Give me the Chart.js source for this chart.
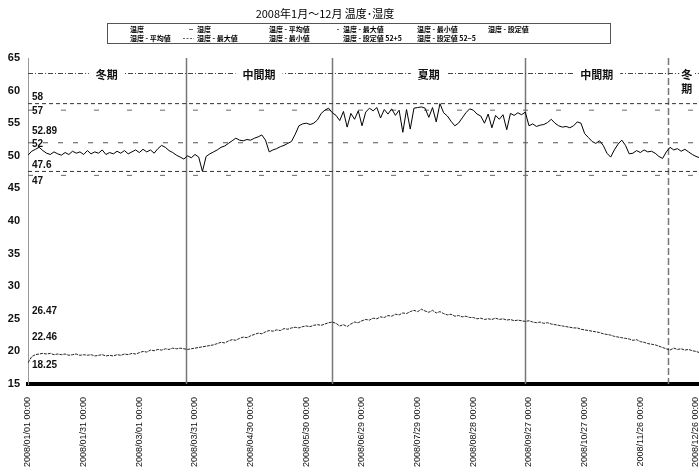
<!DOCTYPE html>
<html>
<head>
<meta charset="utf-8">
<script src="https://cdn.jsdelivr.net/npm/chart.js@4.4.1/dist/chart.umd.min.js"></script>
<style>
  html, body { margin: 0; padding: 0; background: #fff; overflow: hidden; }
  #wrap { width: 720px; height: 474px; }
</style>
</head>
<body>
<div id="wrap"><canvas id="chart" width="720" height="474"></canvas></div>
<script>
// Samples every 2 days from 2008/01/01
const stepDays = 2;

// 湿度 (%)
const humidity = [
  50.1, 50.7, 51.0, 51.3, 50.8, 50.4, 50.2, 50.6, 50.3, 50.1,
  50.5, 50.2, 50.7, 50.4, 50.6, 50.2, 50.8, 50.3, 50.6, 50.4,
  50.9, 50.2, 50.5, 50.3, 50.7, 50.4, 50.8, 50.3, 50.6, 50.9,
  50.5, 51.0, 50.6, 50.9, 50.4, 51.1, 51.6, 51.3, 50.8, 50.5,
  50.1, 49.8, 49.5, 50.0, 49.7, 50.2, 49.8, 47.6, 49.9, 50.3,
  50.6, 50.9, 51.3, 51.5, 51.9, 52.3, 52.7, 52.4, 52.3, 52.5,
  52.4, 52.7, 52.9, 53.2, 52.4, 50.6, 50.9, 51.1, 51.4, 51.6,
  51.9, 52.2, 53.3, 54.6, 54.9, 55.0, 54.8, 55.0, 55.5, 56.5,
  57.0, 57.3, 56.6, 56.2, 55.4, 56.8, 54.4, 56.5, 55.6, 56.9,
  54.6, 56.7, 57.3, 56.9, 57.4, 55.8, 57.1, 56.4, 57.2, 56.2,
  57.0, 53.6, 57.1, 54.1, 57.3, 57.4, 57.5, 57.3, 55.9, 57.4,
  55.2, 58.0, 56.6, 56.1, 55.3, 54.6, 55.0, 55.8, 56.6, 57.2,
  57.0, 56.4, 56.1, 55.0, 56.4, 54.3, 56.2, 55.6, 56.3, 54.0,
  56.5, 56.2, 56.6, 56.3, 56.7, 54.6, 54.9, 54.5, 54.7, 54.8,
  55.1, 55.6, 55.0, 54.6, 54.4, 54.5, 54.3, 54.6, 55.2, 55.0,
  53.4, 52.8, 52.2, 51.9, 52.3, 51.6, 50.4, 49.8, 50.9, 51.8,
  52.4, 51.6, 50.3, 50.4, 50.8, 50.5, 50.9, 50.6, 50.7, 50.4,
  49.9, 49.6, 50.6, 51.3, 50.9, 51.1, 50.7, 51.0, 50.6, 50.2,
  49.9, 49.7, 49.9
];

// 温度 (℃)
const temperature = [
  18.25, 19.2, 19.5, 19.6, 19.7, 19.6, 19.7, 19.5, 19.6, 19.5,
  19.6, 19.4, 19.5, 19.6, 19.4, 19.5, 19.4, 19.5, 19.3, 19.4,
  19.5, 19.3, 19.4, 19.3, 19.5, 19.4, 19.6, 19.5, 19.7, 19.6,
  19.8, 20.0, 19.9, 20.2, 20.1, 20.3, 20.2, 20.4, 20.3, 20.5,
  20.4, 20.5, 20.4, 20.3, 20.4, 20.5, 20.6, 20.7, 20.8, 20.9,
  21.0, 21.2, 21.4, 21.3, 21.6, 21.8, 21.7, 22.0, 22.2, 22.1,
  22.4, 22.6, 22.8, 22.7, 23.0, 23.2, 23.1, 23.3, 23.2, 23.5,
  23.4, 23.6, 23.7, 23.6, 23.8, 23.9, 23.8, 24.0, 24.1, 24.0,
  24.2, 24.4, 24.5, 24.3, 23.9, 24.1, 23.8, 24.2, 24.5, 24.4,
  24.7, 24.9, 24.8, 25.1, 25.0, 25.3, 25.2, 25.5, 25.4, 25.7,
  25.6, 25.9, 25.8, 26.1, 26.3, 26.1, 26.47, 26.2, 26.0, 26.3,
  25.9, 26.1, 25.8, 25.6, 25.7, 25.4, 25.5, 25.3, 25.4, 25.2,
  25.2, 25.0, 25.1, 24.9, 25.0, 24.9, 25.1, 24.9, 25.0, 24.8,
  24.9, 24.7, 24.8, 24.7, 24.6, 24.7, 24.5, 24.4, 24.5, 24.3,
  24.4, 24.2, 24.1, 24.0, 23.9, 23.8, 23.7, 23.6, 23.6, 23.4,
  23.3, 23.2, 23.1, 23.0, 22.9, 22.7, 22.6, 22.5, 22.3, 22.2,
  22.1, 22.0, 21.9, 21.7, 21.8, 21.5, 21.4, 21.2, 21.1, 21.0,
  20.8, 20.6, 20.4, 20.2, 20.5, 20.3, 20.4, 20.2, 20.3, 20.1,
  20.0, 19.8, 19.9
];

// Summary values
const humidityMax = 58;
const humidityAvg = 52.89;
const humidityMin = 47.6;
const humiditySet = 52;
const humiditySetUpper = 57;   // 52+5
const humiditySetLower = 47;   // 52-5
const tempMax = 26.47;
const tempAvg = 22.46;
const tempMin = 18.25;

// X axis: days since 2008/01/01
const tickDays = [0, 30, 60, 90, 120, 150, 180, 210, 240, 270, 300, 330, 360];
const tickLabels = [
  '2008/01/01 00:00', '2008/01/31 00:00', '2008/03/01 00:00', '2008/03/31 00:00',
  '2008/04/30 00:00', '2008/05/30 00:00', '2008/06/29 00:00', '2008/07/29 00:00',
  '2008/08/28 00:00', '2008/09/27 00:00', '2008/10/27 00:00', '2008/11/26 00:00',
  '2008/12/26 00:00'
];

// Operating periods (day boundaries)
const periodNames = ['冬期', '中間期', '夏期', '中間期', '冬期'];
const periodBounds = [0, 85, 164, 268, 345, 365];
const periodLineValue = 62.7;

const titleText = '2008年1月～12月 温度･湿度';
const legendRows = [
  ['温度', '湿度', '温度 - 平均値', '温度 - 最大値', '温度 - 最小値', '湿度 - 設定値'],
  ['湿度 - 平均値', '湿度 - 最大値', '湿度 - 最小値', '湿度 - 設定値 52+5', '湿度 - 設定値 52−5']
];

// value notes along the left edge: [value, placement]
const valueNotes = [
  [humidityMax, 'above'], [humiditySetUpper, 'mid'],
  [humidityAvg, 'above'], [humiditySet, 'mid'],
  [humidityMin, 'above'], [humiditySetLower, 'below'],
  [tempMax, 'temp'], [tempAvg, 'temp'], [tempMin, 'temp']
];

const toPoints = arr => arr.map((v, i) => ({ x: i * stepDays, y: v }));
const flat = v => [{ x: 0, y: v }, { x: 365, y: v }];

const NARROW = '"Liberation Sans Narrow", "Liberation Sans", Arial, sans-serif';
const CJK = '"Noto Sans CJK JP", "Noto Sans CJK SC", sans-serif';

const decor = {
  id: 'decor',
  beforeDatasetsDraw(chart) {
    const { ctx, chartArea: a, scales: { x, y } } = chart;
    ctx.save();
    // period boundaries
    periodBounds.slice(1, -1).forEach((d, i) => {
      const px = Math.round(x.getPixelForValue(d)) + 0.5;
      ctx.strokeStyle = '#777';
      ctx.lineWidth = 1.5;
      ctx.setLineDash(i === 3 ? [7, 3] : []);
      ctx.beginPath();
      ctx.moveTo(px, a.top);
      ctx.lineTo(px, a.bottom);
      ctx.stroke();
    });
    // period band line
    const py = Math.round(y.getPixelForValue(periodLineValue)) + 0.5;
    ctx.setLineDash([5, 2, 1, 2]);
    ctx.strokeStyle = '#444';
    ctx.lineWidth = 1;
    ctx.beginPath();
    ctx.moveTo(a.left, py);
    ctx.lineTo(a.right, py);
    ctx.stroke();
    ctx.setLineDash([]);
    ctx.font = 'bold 11px ' + CJK;
    ctx.textAlign = 'center';
    ctx.textBaseline = 'middle';
    periodNames.forEach((name, i) => {
      const cx = (x.getPixelForValue(periodBounds[i]) + x.getPixelForValue(periodBounds[i + 1])) / 2;
      const last = i === periodNames.length - 1;
      const lines = last ? name.split('') : [name];
      const w = ctx.measureText(lines[0]).width + (last ? 4 : 14);
      ctx.fillStyle = '#fff';
      ctx.fillRect(cx - w / 2, py - 7, w, 14);
      ctx.fillStyle = '#111';
      lines.forEach((t, k) => ctx.fillText(t, cx, py + 1 + k * 14));
    });
    ctx.restore();
  },
  afterDatasetsDraw(chart) {
    const { ctx, chartArea: a, scales: { y } } = chart;
    ctx.save();
    ctx.font = 'bold 10px ' + NARROW;
    ctx.fillStyle = '#111';
    ctx.textAlign = 'left';
    valueNotes.forEach(([v, where]) => {
      const py = y.getPixelForValue(v);
      let ty = py;
      if (where === 'above') { ctx.textBaseline = 'bottom'; ty = py - 1; }
      else if (where === 'below') { ctx.textBaseline = 'top'; ty = py + 1; }
      else if (where === 'mid') { ctx.textBaseline = 'middle'; ty = py + 1; }
      else { ctx.textBaseline = 'middle'; ty = py + 2; }
      ctx.fillText(String(v), a.left + 4, ty);
    });
    ctx.restore();
  },
  afterDraw(chart) {
    const { ctx } = chart;
    ctx.save();
    // title
    ctx.font = '11px ' + CJK;
    ctx.fillStyle = '#000';
    ctx.textAlign = 'center';
    ctx.textBaseline = 'middle';
    ctx.fillText(titleText, 325, 14);
    // legend box
    ctx.strokeStyle = '#555';
    ctx.lineWidth = 1;
    ctx.strokeRect(107.5, 23.5, 503, 20);
    ctx.font = 'bold 7px ' + CJK;
    ctx.textAlign = 'left';
    ctx.textBaseline = 'middle';
    const cols = [130, 197, 269, 343, 417, 488];
    const rows = [29.5, 38.5];
    legendRows.forEach((row, r) => row.forEach((t, c) => ctx.fillText(t, cols[c], rows[r])));
    // line samples
    ctx.strokeStyle = '#666';
    ctx.beginPath(); ctx.moveTo(189, 29.5); ctx.lineTo(193, 29.5); ctx.stroke();
    ctx.beginPath(); ctx.moveTo(337, 29.5); ctx.lineTo(339, 29.5); ctx.stroke();
    ctx.setLineDash([2, 1.5]);
    ctx.beginPath(); ctx.moveTo(183, 38.5); ctx.lineTo(194, 38.5); ctx.stroke();
    ctx.restore();
  }
};

const refLine = (label, v, dash, color) => ({
  label, data: flat(v), borderColor: color, borderWidth: 1, borderDash: dash,
  pointRadius: 0, tension: 0
});

new Chart(document.getElementById('chart'), {
  type: 'line',
  data: {
    datasets: [
      { label: '温度', data: toPoints(temperature), borderColor: '#222', borderWidth: 1,
        borderDash: [3, 1], pointRadius: 0, tension: 0 },
      { label: '湿度', data: toPoints(humidity), borderColor: '#000', borderWidth: 1,
        pointRadius: 0, tension: 0 },
      refLine('湿度 - 最大値', humidityMax, [4, 3], '#333'),
      refLine('湿度 - 最小値', humidityMin, [4, 3], '#333'),
      refLine('湿度 - 設定値', humiditySet, [5, 10], '#555'),
      refLine('湿度 - 設定値 52+5', humiditySetUpper, [5, 28], '#666'),
      refLine('湿度 - 設定値 52−5', humiditySetLower, [5, 28], '#666')
    ]
  },
  options: {
    responsive: false,
    animation: false,
    devicePixelRatio: 1,
    layout: { padding: { top: 58, right: 14, left: 0, bottom: 0 } },
    plugins: { legend: { display: false }, title: { display: false }, tooltip: { enabled: false } },
    scales: {
      x: {
        type: 'linear', min: 0, max: 365,
        afterBuildTicks: s => { s.ticks = tickDays.map(v => ({ value: v })); },
        afterFit: s => { s.height = 90; },
        grid: { display: false, drawTicks: false },
        border: { display: true, color: '#000', width: 4 },
        ticks: {
          autoSkip: false, minRotation: 90, maxRotation: 90, padding: 13,
          color: '#111', font: { family: '"Liberation Sans", Arial, sans-serif', size: 9 },
          callback: v => tickLabels[tickDays.indexOf(v)]
        }
      },
      y: {
        min: 15, max: 65,
        afterFit: s => { s.width = 28; },
        grid: { display: false, drawTicks: false },
        border: { display: true, color: '#999', width: 1, dash: [3, 3] },
        ticks: { stepSize: 5, padding: 8, color: '#111',
          font: { family: NARROW, size: 11, weight: 'bold' } }
      }
    }
  },
  plugins: [decor]
});
</script>
</body>
</html>
